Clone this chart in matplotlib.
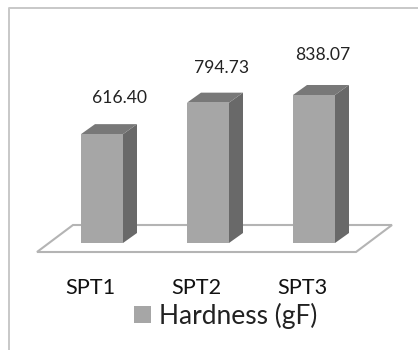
import matplotlib
matplotlib.use("Agg")
import matplotlib.pyplot as plt
from matplotlib.patches import Polygon
from matplotlib.lines import Line2D
from matplotlib.transforms import ScaledTranslation

categories = ["SPT1", "SPT2", "SPT3"]
hardness = [616.40, 794.73, 838.07]
series_name = "Hardness (gF)"

W, H = 418, 350
BASE = 243            # pixel row of the value-zero baseline
PX_PER_VALUE = 0.1766
PX_PER_CAT = 106
X0 = 102              # pixel column of the first category
BAR_W = 42 / PX_PER_CAT
DX, DY = 14 / PX_PER_CAT, 10 / PX_PER_VALUE

FRONT, SIDE, TOP = "#a6a6a6", "#696969", "#787878"
EDGE = "#b4b4b4"
TEXT = "#222222"
plt.rcParams["font.family"] = ["Lato", "DejaVu Sans"]

fig = plt.figure(figsize=(W / 100, H / 100), dpi=100)
ax = fig.add_axes([0, (H - BASE) / H, 1, BASE / H])
ax.set_xlim(-X0 / PX_PER_CAT, (W - X0) / PX_PER_CAT)
ax.set_ylim(0, BASE / PX_PER_VALUE)
ax.patch.set_visible(False)
for s in ax.spines.values():
    s.set_visible(False)
ax.yaxis.set_visible(False)

# outer frame
fig.add_artist(Line2D([8.5 / W, 8.5 / W, 1], [0, 1 - 8 / H, 1 - 8 / H],
                      color="#c8c8c8", lw=1.4, transform=fig.transFigure))

# floor
fl = 1 / PX_PER_VALUE
floor = Polygon([(-65 / PX_PER_CAT, -9 * fl), (-29 / PX_PER_CAT, 18 * fl),
                 (290 / PX_PER_CAT, 18 * fl), (254 / PX_PER_CAT, -9 * fl)],
                closed=True, fc="white", ec=EDGE, lw=1.5, clip_on=False, zorder=1)
ax.add_patch(floor)

# bars
xs = list(range(len(categories)))
bars = ax.bar(xs, hardness, width=BAR_W, color=FRONT, label=series_name,
              zorder=3, clip_on=False)
for x, v in zip(xs, hardness):
    l, r = x - BAR_W / 2, x + BAR_W / 2
    ax.add_patch(Polygon([(r, 0), (r + DX, DY), (r + DX, v + DY), (r, v)],
                         fc=SIDE, ec="none", zorder=2, clip_on=False))
    ax.add_patch(Polygon([(l, v), (l + DX, v + DY), (r + DX, v + DY), (r, v)],
                         fc=TOP, ec="none", zorder=2, clip_on=False))

# value labels
label_rise = [36, 35, 40]
label_shift = [17.5, 14, 9]
for x, v, rise, sh in zip(xs, hardness, label_rise, label_shift):
    ax.annotate(f"{v:.2f}", (x, v), xytext=(sh * 0.72, rise * 0.72),
                textcoords="offset points", ha="center", va="center",
                fontsize=12.6, color=TEXT, annotation_clip=False)

# category ticks
ax.set_xticks(xs, categories)
ax.tick_params(axis="x", length=0, pad=25, labelsize=15.6, labelcolor="#111111")
shift = ScaledTranslation(-12 / 100, 0, fig.dpi_scale_trans)
for t in ax.get_xticklabels():
    t.set_transform(t.get_transform() + shift)

# legend
ax.legend(handles=[bars], loc="center", frameon=False, fontsize=19,
          bbox_to_anchor=(226 / W, (BASE - 316) / BASE), handlelength=0.62,
          handleheight=0.62, handletextpad=0.32, labelcolor="#222222",
          borderpad=0, borderaxespad=0)

fig.savefig("out.png", dpi=100)
